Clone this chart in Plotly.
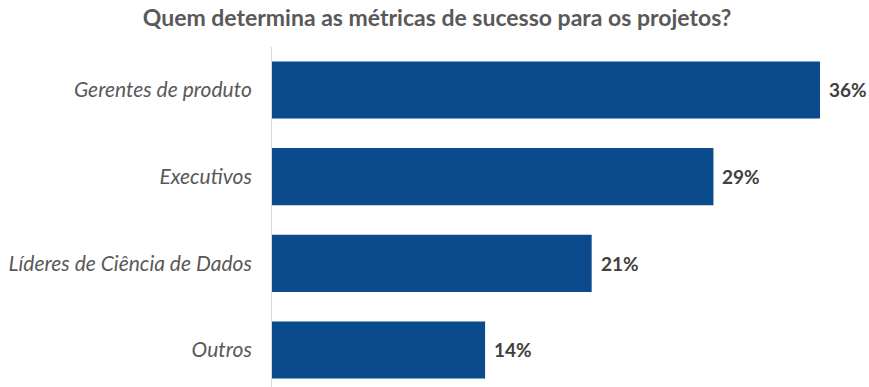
import plotly.graph_objects as go

categories = ["Gerentes de produto", "Executivos", "Líderes de Ciência de Dados", "Outros"]
values = [36, 29, 21, 14]
value_labels = ["36%", "29%", "21%", "14%"]

BAR_COLOR = "#0B4A8C"
FONT = "Lato"

fig = go.Figure(
    go.Bar(
        x=values,
        y=categories,
        orientation="h",
        width=0.66,
        marker=dict(color=BAR_COLOR, line=dict(width=0)),
        hoverinfo="skip",
    )
)

# value labels just to the right of each bar end
for cat, val, lab in zip(categories, values, value_labels):
    fig.add_annotation(
        x=val,
        y=cat,
        text=f"<b>{lab}</b>",
        showarrow=False,
        xanchor="left",
        yanchor="middle",
        xshift=7,
        font=dict(family=FONT, size=19, color="#404040"),
    )

fig.update_layout(
    width=869,
    height=387,
    margin=dict(l=272, r=49, t=47, b=0),
    paper_bgcolor="white",
    plot_bgcolor="white",
    showlegend=False,
    title=dict(
        text="<b>Quem determina as métricas de sucesso para os projetos?</b>",
        x=0.503,
        xanchor="center",
        y=0.953,
        yanchor="middle",
        font=dict(family=FONT, size=23, color="#595959"),
    ),
    xaxis=dict(
        range=[0, 36],
        showgrid=False,
        zeroline=False,
        showticklabels=False,
        showline=False,
    ),
    yaxis=dict(
        type="category",
        categoryorder="array",
        categoryarray=categories,
        range=[3.427, -0.496],
        showgrid=False,
        zeroline=False,
        showline=True,
        linecolor="#D9D9D9",
        linewidth=1,
        ticks="",
        ticklabelstandoff=15,
        tickfont=dict(family=FONT, size=21, color="#595959", style="italic"),
    ),
)

fig.write_html("out.html")
